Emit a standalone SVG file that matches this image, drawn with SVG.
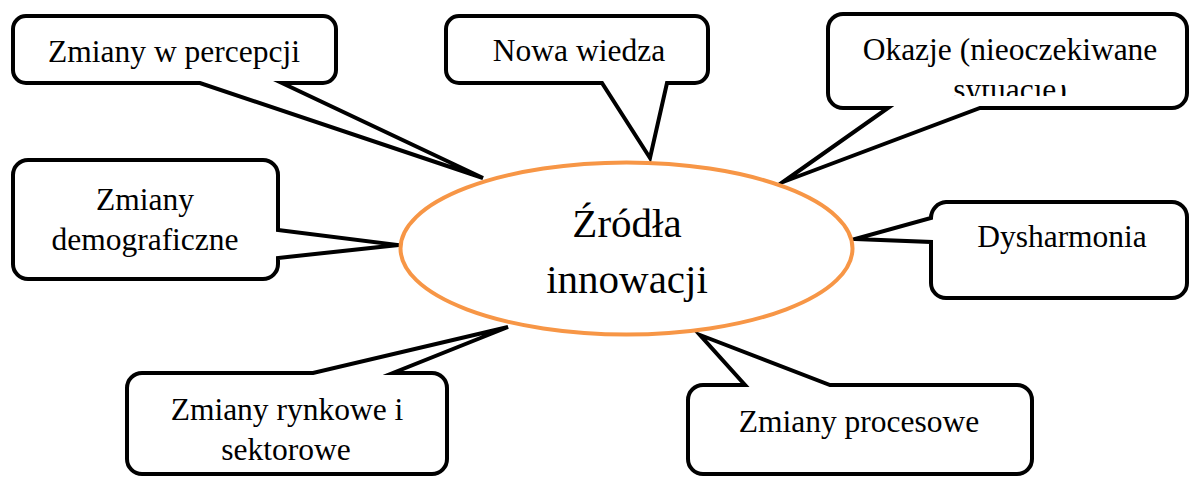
<svg xmlns="http://www.w3.org/2000/svg" width="1189" height="477" viewBox="0 0 1189 477">
  <style>
    .callout { fill: #ffffff; stroke: #000000; stroke-width: 4; stroke-linejoin: miter; stroke-miterlimit: 10; }
    .hub { fill: #ffffff; stroke: #F79646; stroke-width: 4; }
  </style>
  <defs>
    <clipPath id="okazjeClip">
      <rect x="828" y="85" width="360" height="11"/>
    </clipPath>
  </defs>
  <rect width="1189" height="477" fill="#ffffff"/>

  <!-- callout bubbles, each with its pointer aimed at the hub -->
  <g id="connectors" font-family="Liberation Serif" font-size="31.5" text-anchor="middle" fill="#000000">
    <g id="n-percepcja">
      <path class="callout" d="M26,16 H323 A13,13 0 0 1 336,29 V70 A13,13 0 0 1 323,83 H282 L483,178 L200,83 H26 A13,13 0 0 1 13,70 V29 A13,13 0 0 1 26,16 Z"/>
      <text x="174" y="62" font-family="Liberation Serif">Zmiany w percepcji</text>
    </g>
    <g id="n-wiedza">
      <path class="callout" d="M459,16 H695 A13,13 0 0 1 708,29 V70 A13,13 0 0 1 695,83 H667 L650,158 L602,83 H459 A13,13 0 0 1 446,70 V29 A13,13 0 0 1 459,16 Z"/>
      <text x="579" y="61" font-family="Liberation Serif">Nowa wiedza</text>
    </g>
    <g id="n-okazje">
      <path class="callout" d="M843,14 H1172 A15,15 0 0 1 1187,29 V93 A15,15 0 0 1 1172,108 H980 L783,182 L888,108 H843 A15,15 0 0 1 828,93 V29 A15,15 0 0 1 843,14 Z"/>
      <text x="1010" y="60" font-family="Liberation Serif">Okazje (nieoczekiwane</text>
      <text x="1010" y="100" font-family="Liberation Serif" clip-path="url(#okazjeClip)">sytuacje)</text>
    </g>
    <g id="n-demografia">
      <path class="callout" d="M28,160 H263 A15,15 0 0 1 278,175 V230 L398,245 L278,258 V264 A15,15 0 0 1 263,279 H28 A15,15 0 0 1 13,264 V175 A15,15 0 0 1 28,160 Z"/>
      <text x="145" y="210" font-family="Liberation Serif">Zmiany</text>
      <text x="145" y="250" font-family="Liberation Serif">demograficzne</text>
    </g>
    <g id="n-dysharmonia">
      <path class="callout" d="M946,202 H1172 A15,15 0 0 1 1187,217 V283 A15,15 0 0 1 1172,298 H946 A15,15 0 0 1 931,283 V242 L855,239 L931,218 A16,16 0 0 1 946,202 Z"/>
      <text x="1062" y="247" font-family="Liberation Serif">Dysharmonia</text>
    </g>
    <g id="n-rynkowe">
      <path class="callout" d="M142,373 H313 L508,327 L393,373 H432 A15,15 0 0 1 447,388 V459 A15,15 0 0 1 432,474 H142 A15,15 0 0 1 127,459 V388 A15,15 0 0 1 142,373 Z"/>
      <text x="287" y="420" font-family="Liberation Serif">Zmiany rynkowe i</text>
      <text x="286" y="460" font-family="Liberation Serif">sektorowe</text>
    </g>
    <g id="n-procesowe">
      <path class="callout" d="M703,385 H745 L700,335 L830,385 H1017 A15,15 0 0 1 1032,400 V459 A15,15 0 0 1 1017,474 H703 A15,15 0 0 1 688,459 V400 A15,15 0 0 1 703,385 Z"/>
      <text x="859" y="432" font-family="Liberation Serif">Zmiany procesowe</text>
    </g>
  </g>

  <!-- central hub -->
  <g id="n-zrodla" font-family="Liberation Serif" font-size="41" text-anchor="middle" fill="#000000">
    <ellipse class="hub" cx="626.5" cy="248.5" rx="226" ry="86"/>
    <text x="627" y="237" font-family="Liberation Serif">Źródła</text>
    <text x="627" y="293" font-family="Liberation Serif">innowacji</text>
  </g>
</svg>
